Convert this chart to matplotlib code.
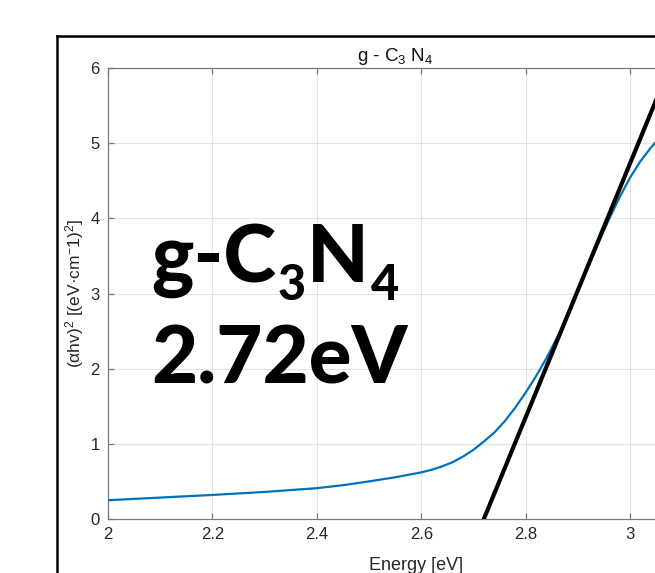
import matplotlib
matplotlib.use("Agg")
import matplotlib.pyplot as plt
from matplotlib.lines import Line2D

# Tauc plot data
energy = [2.00, 2.10, 2.20, 2.30, 2.40, 2.45, 2.50, 2.55, 2.60, 2.62, 2.64,
          2.66, 2.68, 2.70, 2.72, 2.74, 2.76, 2.78, 2.80, 2.82, 2.84, 2.86,
          2.88, 2.90, 2.92, 2.94, 2.96, 2.98, 3.00, 3.02, 3.04, 3.05]
tauc = [0.25, 0.285, 0.32, 0.36, 0.41, 0.45, 0.50, 0.555, 0.62, 0.655, 0.70,
        0.755, 0.83, 0.92, 1.03, 1.15, 1.30, 1.48, 1.68, 1.90, 2.14, 2.41,
        2.71, 3.03, 3.36, 3.68, 3.99, 4.28, 4.54, 4.76, 4.94, 5.02]

# linear fit of the absorption edge
fit_energy = [2.72, 3.08]
fit_value = [0.0, 6.08]

x_ticks = [2, 2.2, 2.4, 2.6, 2.8, 3]
x_labels = ["2", "2.2", "2.4", "2.6", "2.8", "3"]
y_ticks = [0, 1, 2, 3, 4, 5, 6]

plt.rcParams["font.family"] = ["Liberation Sans", "DejaVu Sans"]
plt.rcParams["mathtext.default"] = "regular"

W, H = 655, 573
fig = plt.figure(figsize=(W / 100, H / 100), dpi=100)

# outer figure frame (cropped on the right and bottom)
fig.add_artist(Line2D([57 / W, 57 / W], [0, 1 - 35.5 / H], color="black",
                      lw=1.8, transform=fig.transFigure))
fig.add_artist(Line2D([57 / W, 1], [1 - 35.5 / H, 1 - 35.5 / H], color="black",
                      lw=1.8, transform=fig.transFigure))

ax = fig.add_axes([108 / W, 1 - 519 / H, 626.4 / W, 451 / H])
ax.plot(energy, tauc, color="#0072BD", lw=1.6, zorder=3)
ax.plot(fit_energy, fit_value, color="black", lw=3.0, zorder=4)

ax.set_xlim(2, 3.2)
ax.set_ylim(0, 6)
ax.set_xticks(x_ticks)
ax.set_xticklabels(x_labels)
ax.set_yticks(y_ticks)
ax.grid(True, color="#e3e3e3", lw=0.8)
ax.set_axisbelow(True)
for s in ax.spines.values():
    s.set_color("#7a7a7a")
    s.set_linewidth(0.9)
ax.tick_params(direction="in", length=4, width=0.9, color="#7a7a7a",
               labelsize=12, labelcolor="#262626", top=True, right=True, pad=6)

ax.set_xlabel("Energy [eV]", fontsize=13, color="#262626", labelpad=3)
ax.xaxis.set_label_coords((416 - 108) / 626.4, -0.085)
ax.set_ylabel("(αhv)$^2$ [(eV·cm$^{-}$1)$^2$]", fontsize=12.5, color="#262626")
ax.yaxis.set_label_coords((86 - 108) / 626.4, 0.5)
ax.set_title("g - C$_3$ N$_4$", fontsize=13.5, color="#111111",
             x=(395 - 108) / 626.4, y=1.0, pad=5)

# big annotation, subscripts placed by hand so they sit low like the original
big = dict(family=["Lato", "DejaVu Sans"], fontweight=900, color="black",
           va="baseline", ha="left")
renderer = fig.canvas.get_renderer()
x = 151
for piece, size, drop in [("g-C", 57.5, 0), ("3", 35, 18), ("N", 57.5, 0),
                          ("4", 35, 18)]:
    t = fig.text(x / W, 1 - (282 + drop) / H, piece, fontsize=size, **big)
    x = t.get_window_extent(renderer).x1 + (2 if drop == 0 else 1)
fig.text(151 / W, 1 - 383 / H, "2.72eV", fontsize=57.5, **big)

fig.savefig("out.png", dpi=100)
